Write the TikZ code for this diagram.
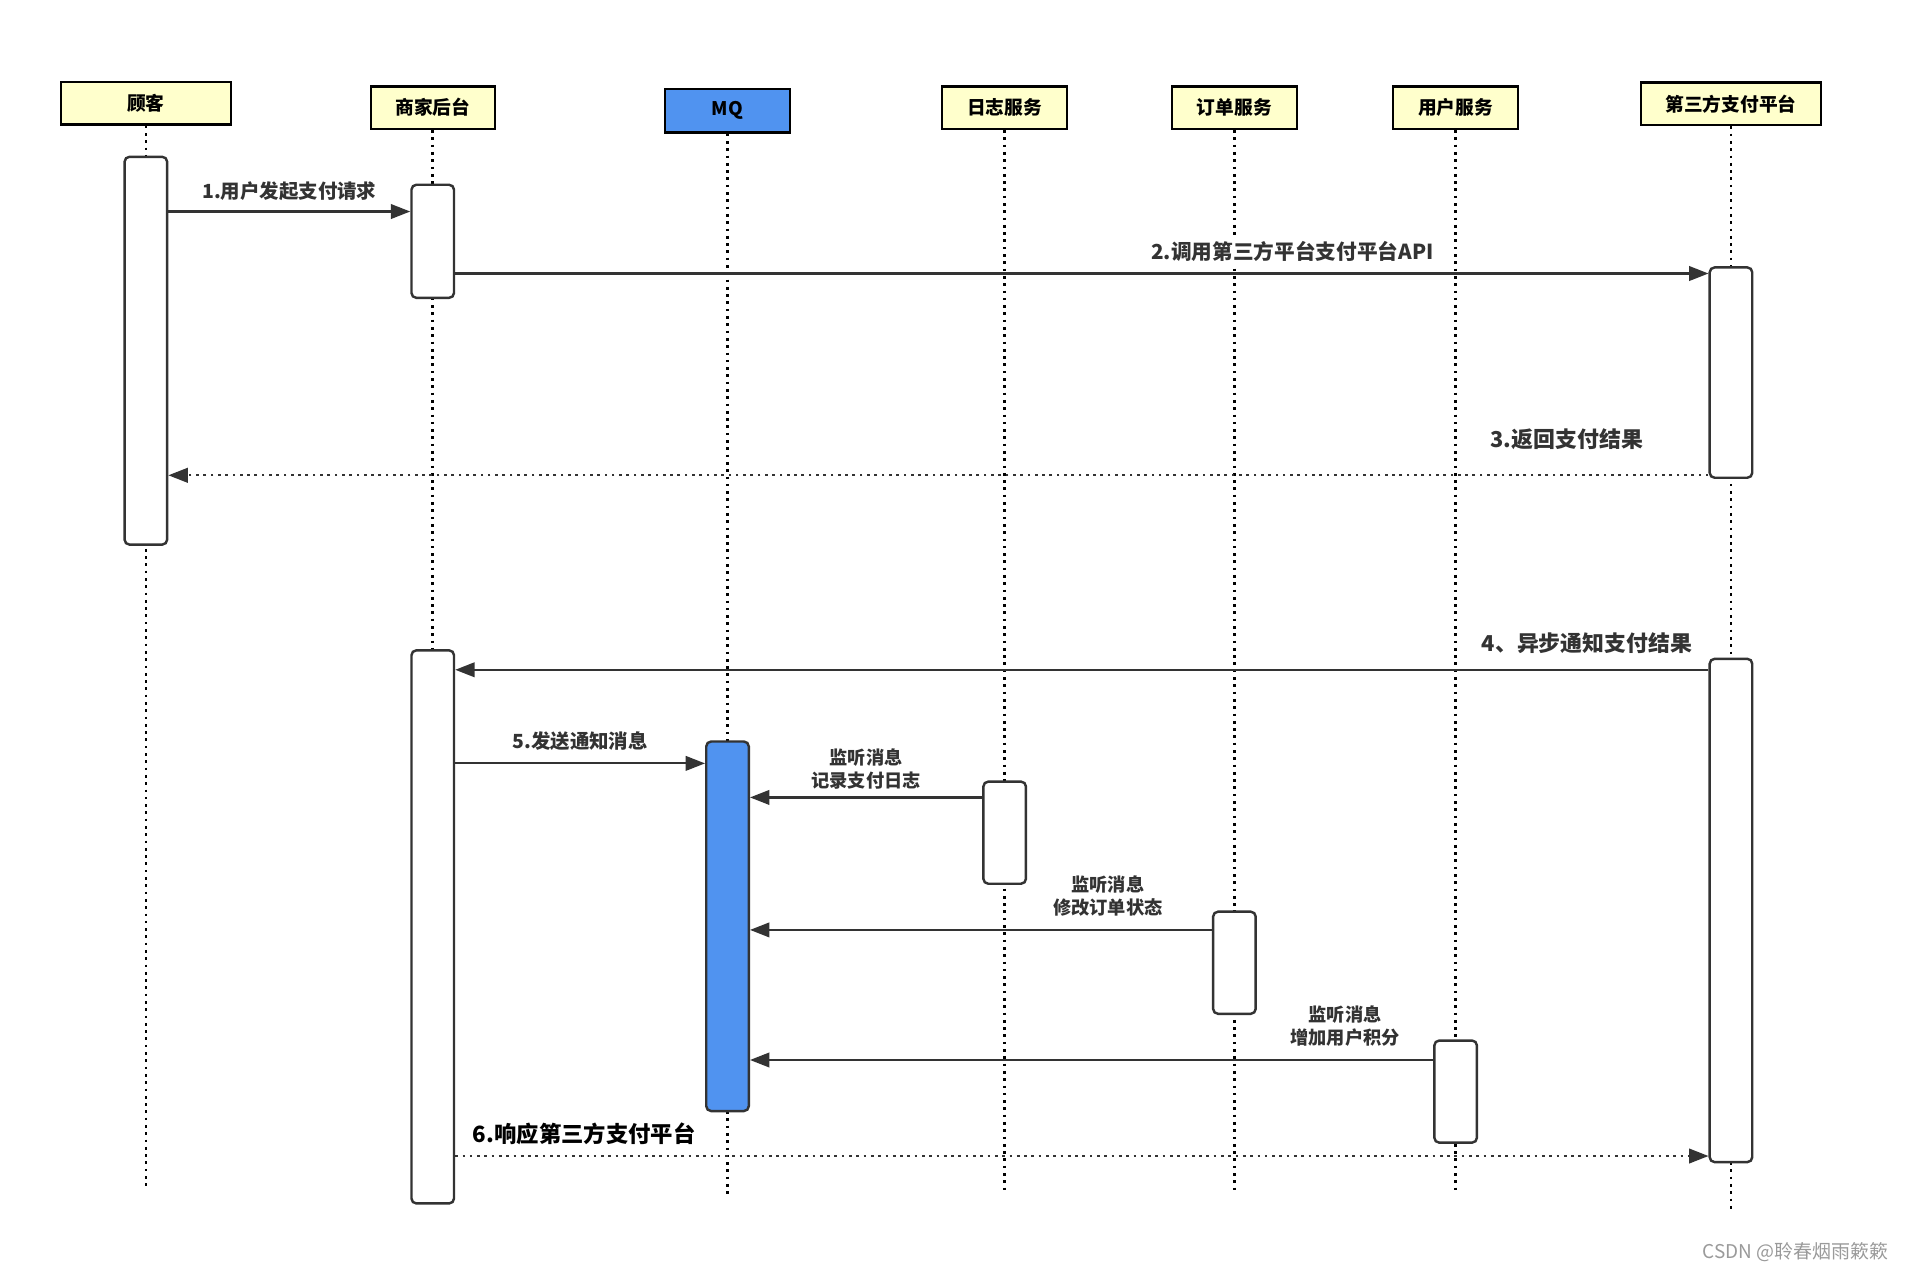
\documentclass[tikz,border=0pt]{standalone}
\usepackage{fontspec}
\setmainfont{Noto Sans CJK SC}
\usetikzlibrary{arrows.meta}
\definecolor{ln}{HTML}{333333}
\definecolor{hdr}{HTML}{FFFFCC}
\definecolor{mqblue}{HTML}{5093F0}
\definecolor{wm}{HTML}{9A9A9A}
\begin{document}
\begin{tikzpicture}[x=0.5pt,y=-0.5pt,
  hbox/.style={draw=black, line width=1pt, fill=hdr, minimum height=17.5pt, inner sep=0pt, text=black,
    font=\bfseries\fontsize{7.7}{9}\selectfont},
  act/.style={draw=ln, line width=1pt, fill=white, rounded corners=2pt, minimum width=17.5pt, inner sep=0pt},
  life/.style={draw=black, line width=1.1pt, dash pattern=on 1.1pt off 1.9pt},
  msg/.style={draw=ln, line width=0.9pt, -{Triangle[length=8pt,width=6pt]}},
  ret/.style={msg, dash pattern=on 1.1pt off 1.9pt},
  lbl/.style={font=\bfseries\fontsize{8}{9.5}\selectfont, text=ln, inner sep=1pt, align=center}
]
\path[use as bounding box, fill=white] (0,0) rectangle (1568,1046);

% headers
\node[hbox, minimum width=70pt] (h1) at (120,85) {顾客};
\node[hbox, minimum width=51pt] (h2) at (356,88.5) {商家后台};
\node[hbox, minimum width=51.5pt, minimum height=18pt, fill=mqblue] (h3) at (598.5,91) {MQ};
\node[hbox, minimum width=51.5pt] (h4) at (826.5,88.5) {日志服务};
\node[hbox, minimum width=51.5pt] (h5) at (1015.5,88.5) {订单服务};
\node[hbox, minimum width=51.5pt] (h6) at (1197.5,88.5) {用户服务};
\node[hbox, minimum width=74pt] (h7) at (1424,85.5) {第三方支付平台};

% lifeline ends
\coordinate (e1) at (h1 |- 0,977);
\coordinate (e2) at (h2 |- 0,990);
\coordinate (e3) at (h3 |- 0,983);
\coordinate (e4) at (h4 |- 0,980);
\coordinate (e5) at (h5 |- 0,980);
\coordinate (e6) at (h6 |- 0,980);
\coordinate (e7) at (h7 |- 0,995);
\foreach \i in {1,...,7} \draw[life] (h\i.south) -- (e\i);

% activations
\node[act, minimum height=159.5pt] (a1) at (h1 |- 0,288.5) {};
\node[act, minimum height=46.5pt]  (a2) at (h2 |- 0,198.5) {};
\node[act, minimum height=86.5pt]  (a3) at (h7 |- 0,306.5) {};
\node[act, minimum height=227.5pt] (a4) at (h2 |- 0,762.5) {};
\node[act, minimum height=207pt]   (a5) at (h7 |- 0,749) {};
\node[act, minimum height=152pt, fill=mqblue] (m1) at (h3 |- 0,762) {};
\node[act, minimum height=42pt]    (a6) at (h4 |- 0,685) {};
\node[act, minimum height=42pt]    (a7) at (h5 |- 0,792) {};
\node[act, minimum height=42pt]    (a8) at (h6 |- 0,898) {};

% messages
\draw[msg] (a1.east |- 0,174) -- node[lbl, midway, above=3pt] {1.用户发起支付请求} (a2.west |- 0,174);
\draw[msg] (a2.east |- 0,225) -- node[lbl, pos=0.668, above=3.5pt, fill=white, font=\bfseries\fontsize{8.5}{10}\selectfont] {2.调用第三方平台支付平台API} (a3.west |- 0,225);
\draw[ret] (a3.west |- 0,391) -- node[lbl, pos=0.092, above=9pt, font=\bfseries\fontsize{9}{10}\selectfont] {3.返回支付结果} (a1.east |- 0,391);
\draw[msg] (a5.west |- 0,551) -- node[lbl, pos=0.097, above=5pt, font=\bfseries\fontsize{9}{10}\selectfont] {4、异步通知支付结果} (a4.east |- 0,551);
\draw[msg] (a4.east |- 0,628) -- node[lbl, midway, above=4pt] {5.发送通知消息} (m1.west |- 0,628);
\draw[msg] (a6.west |- 0,656) -- node[lbl, midway, above=2pt, font=\bfseries\fontsize{7.5}{9.5}\selectfont] {监听消息\\记录支付日志} (m1.east |- 0,656);
\draw[msg] (a7.west |- 0,765) -- node[lbl, pos=0.225, above=4pt, font=\bfseries\fontsize{7.5}{9.5}\selectfont] {监听消息\\修改订单状态} (m1.east |- 0,765);
\draw[msg] (a8.west |- 0,872) -- node[lbl, pos=0.129, above=4pt, font=\bfseries\fontsize{7.5}{9.5}\selectfont] {监听消息\\增加用户积分} (m1.east |- 0,872);
\draw[ret] (a4.east |- 0,951) -- node[lbl, pos=0.103, above=3pt, font=\bfseries\fontsize{9.2}{11}\selectfont, text=black] {6.响应第三方支付平台} (a5.west |- 0,951);

% watermark
\node[text=wm, font=\fontsize{7.8}{9}\selectfont, inner sep=0pt] (wmark) at (1477,1030) {CSDN @聆春烟雨簌簌};
\end{tikzpicture}
\end{document}
